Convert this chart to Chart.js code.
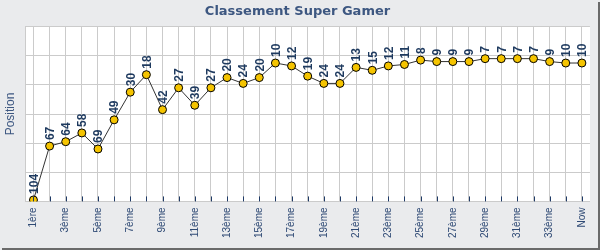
<!DOCTYPE html>
<html>
<head>
<meta charset="utf-8">
<script src="https://cdn.jsdelivr.net/npm/chart.js@4/dist/chart.umd.min.js"></script>
<style>
  html, body { margin: 0; padding: 0; background: #eaebed; }
  #wrap { width: 600px; height: 250px; position: relative; }
</style>
</head>
<body>
<div id="wrap"><canvas id="c" width="600" height="250"></canvas></div>
<script>
const categories = ["1ère","2ème","3ème","4ème","5ème","6ème","7ème","8ème","9ème","10ème",
  "11ème","12ème","13ème","14ème","15ème","16ème","17ème","18ème","19ème","20ème",
  "21ème","22ème","23ème","24ème","25ème","26ème","27ème","28ème","29ème","30ème",
  "31ème","32ème","33ème","34ème","Now"];
const positions = [104,67,64,58,69,49,30,18,42,27,
  39,27,20,24,20,10,12,19,24,24,
  13,15,12,11,8,9,9,9,7,7,
  7,7,9,10,10];
const chartTitle = "Classement Super Gamer";
const yTitle = "Position";

const bgPlugin = {
  id: 'bg',
  beforeDraw(chart) {
    const ctx = chart.ctx, a = chart.chartArea;
    ctx.save();
    ctx.fillStyle = '#eaebed';
    ctx.fillRect(0, 0, chart.width, chart.height);
    ctx.fillStyle = '#ffffff';
    ctx.fillRect(a.left, a.top, a.right - a.left, a.bottom - a.top);
    ctx.restore();
  },
  afterDraw(chart) {
    const ctx = chart.ctx;
    ctx.save();
    ctx.fillStyle = '#6a6a6a';
    ctx.fillRect(598, 2, 2, chart.height - 2);
    ctx.fillRect(2, 248, chart.width - 2, 2);
    ctx.restore();
  }
};

const tickPlugin = {
  id: 'innerTicks',
  afterDatasetsDraw(chart) {
    const ctx = chart.ctx, x = chart.scales.x, a = chart.chartArea;
    ctx.save();
    ctx.strokeStyle = '#1f3a66';
    ctx.lineWidth = 1;
    ctx.beginPath();
    for (let i = 0; i < categories.length; i++) {
      const px = Math.round(x.getPixelForValue(i)) + 0.5;
      ctx.moveTo(px, a.bottom);
      ctx.lineTo(px, a.bottom - 5);
    }
    ctx.stroke();
    ctx.restore();
  }
};

const labelPlugin = {
  id: 'valueLabels',
  afterDatasetsDraw(chart) {
    const ctx = chart.ctx;
    const meta = chart.getDatasetMeta(0);
    ctx.save();
    ctx.fillStyle = '#1e3a5f';
    ctx.font = 'bold 12px "Liberation Sans", Arial, sans-serif';
    ctx.textAlign = 'left';
    ctx.textBaseline = 'middle';
    meta.data.forEach((pt, i) => {
      ctx.save();
      ctx.translate(pt.x + 1, pt.y - 6);
      ctx.rotate(-Math.PI / 2);
      ctx.fillText(String(positions[i]), 0, 0);
      ctx.restore();
    });
    ctx.restore();
  }
};

new Chart(document.getElementById('c'), {
  type: 'line',
  data: {
    labels: categories,
    datasets: [{
      data: positions,
      borderColor: '#333333',
      borderWidth: 1,
      backgroundColor: '#f5c400',
      pointBackgroundColor: '#f5c400',
      pointBorderColor: '#000000',
      pointBorderWidth: 1,
      pointRadius: 4,
      tension: 0,
      fill: false
    }]
  },
  options: {
    responsive: false,
    animation: false,
    devicePixelRatio: 1,
    layout: { padding: { top: 4, left: 2, right: 7, bottom: 6 } },
    plugins: {
      legend: { display: false },
      tooltip: { enabled: false },
      title: {
        display: true,
        text: chartTitle,
        color: '#3d5781',
        font: { family: '"DejaVu Sans", Verdana, sans-serif', size: 13, weight: 'bold' },
        padding: { top: 0, bottom: 7 }
      }
    },
    scales: {
      x: {
        type: 'category',
        offset: true,
        grid: { offset: false, color: '#cbcbcb', drawTicks: false },
        border: { display: true, color: '#cbcbcb' },
        ticks: {
          autoSkip: false,
          minRotation: 90,
          maxRotation: 90,
          padding: 6,
          color: '#2f4a75',
          font: { family: '"Liberation Sans", Arial, sans-serif', size: 10 },
          callback: function(v, i) { return i % 2 === 0 ? categories[i] : ''; }
        }
      },
      y: {
        reverse: true,
        min: -15,
        max: 105,
        grid: { color: '#cbcbcb', drawTicks: false },
        border: { display: true, color: '#cbcbcb' },
        ticks: { display: false, stepSize: 20 },
        title: {
          display: true,
          text: yTitle,
          color: '#3d5781',
          font: { family: '"Liberation Sans", Arial, sans-serif', size: 12 },
          padding: { top: 1, bottom: 8 }
        }
      }
    }
  },
  plugins: [bgPlugin, tickPlugin, labelPlugin]
});
</script>
</body>
</html>
